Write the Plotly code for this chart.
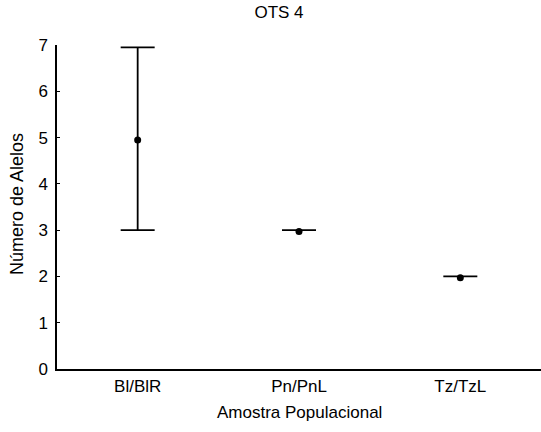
import plotly.graph_objects as go

categories = ["Bl/BlR", "Pn/PnL", "Tz/TzL"]
means = [4.95, 2.97, 1.97]
upper = [6.95, 3.0, 2.0]
lower = [3.0, 3.0, 2.0]
y_ticks = [0, 1, 2, 3, 4, 5, 6, 7]

xpos = list(range(len(categories)))
plus = [u - m for u, m in zip(upper, means)]
minus = [m - l for m, l in zip(means, lower)]

fig = go.Figure()
fig.add_trace(go.Scatter(
    x=xpos, y=means, mode="markers",
    marker=dict(color="black", size=7),
    error_y=dict(type="data", symmetric=False, array=plus, arrayminus=minus,
                 color="black", thickness=1.8, width=17),
    showlegend=False,
))

FONT = "Liberation Sans, Arial, Helvetica, sans-serif"
font = dict(family=FONT, size=17, color="black")
fig.update_layout(
    width=541, height=432,
    margin=dict(l=57, r=0, t=45, b=63, autoexpand=False),
    paper_bgcolor="white", plot_bgcolor="white",
    font=font,
    title=dict(text="OTS 4", x=279 / 541, xanchor="center", y=1 - 12.5 / 432,
               yanchor="middle", font=dict(size=17)),
    xaxis=dict(range=[-0.5, 2.5], tickvals=xpos, ticktext=categories,
               showline=True, linecolor="black", linewidth=1.5, ticks="",
               showgrid=False, zeroline=False, automargin=False,
               ticklabelstandoff=1),
    yaxis=dict(range=[0, 7], tickvals=y_ticks, showline=True, linecolor="black",
               linewidth=1.5, ticks="inside", ticklen=3, tickcolor="black",
               showgrid=False, zeroline=False, automargin=False,
               ticklabelstandoff=4),
    annotations=[
        dict(text="Amostra Populacional", xref="paper", yref="paper", x=0.5, y=0,
             xanchor="center", yanchor="middle", yshift=-43, showarrow=False,
             font=dict(family=FONT, size=17, color="black")),
        dict(text="Número de Alelos", xref="paper", yref="paper", x=0, y=0.5,
             xanchor="center", yanchor="middle", xshift=-40, yshift=3, textangle=-90,
             showarrow=False, font=dict(family=FONT, size=18, color="black")),
    ],
)
fig.write_html("out.html", config={"displayModeBar": False},
               post_script="document.body.style.margin='0';document.body.style.overflow='hidden';")
